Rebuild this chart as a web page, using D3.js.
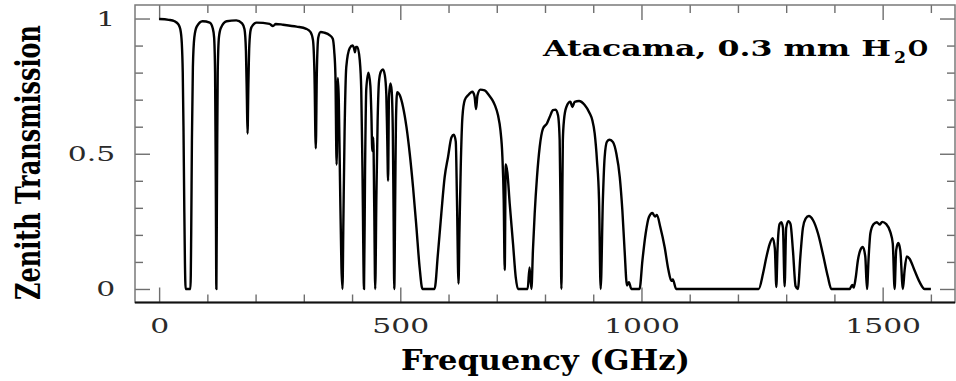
<!DOCTYPE html>
<html>
<head>
<meta charset="utf-8">
<script src="https://cdn.jsdelivr.net/npm/d3@7"></script>
<style>
  html, body { margin: 0; padding: 0; background: #fff; }
  svg { display: block; }
</style>
</head>
<body>
<script>
// ---------------- data ----------------
const freqGHz = [
  0, 20, 32, 40, 44, 47, 49, 50.5, 52, 53.5, 55, 65, 66.5, 68, 70, 73, 78, 90, 105, 111,
  114, 116, 117.5, 118.7, 120, 121.5, 124, 128, 140, 160, 172, 177, 180, 182, 183.3, 185, 187, 190, 195, 202,
  229, 236, 242, 257, 285, 305, 314, 319, 322, 324.8, 327, 330, 335, 342, 354, 360, 363, 365.5, 368, 370.5,
  372.5, 375, 378, 380.2, 382, 384.5, 388, 395, 401, 404, 406, 408, 411, 416, 419, 421.5, 424.8, 427, 429.5, 434,
  438, 440, 442, 444, 446, 448, 450.5, 453, 456, 460, 464, 468, 471, 473, 474.7, 476.5, 479.5, 482, 484.5, 486,
  487.5, 489.5, 491, 493.5, 499, 505.7, 512.7, 519.6, 526.4, 533.4, 540, 546, 571, 578, 585, 592, 599, 606, 611, 615,
  617.5, 620.7, 622.5, 625.3, 628.8, 633.6, 640.4, 649.5, 654, 657, 660, 666, 675, 684, 691, 696, 702.6, 707.6, 711.7, 714.4,
  716.5, 718.6, 722, 726.8, 733.7, 739.3, 744, 764, 768, 771.8, 775, 778.6, 783.4, 789, 795.8, 804, 809.7, 816.6, 822, 827,
  830.4, 832.5, 834, 835.5, 837, 839.4, 844.3, 852.6, 856.8, 861.5, 870.5, 882.3, 892.6, 898, 903, 907.7, 912, 915.4, 920, 923.7,
  928.5, 934, 941, 948, 955, 960.4, 965, 970, 974, 979, 996, 1002, 1008.7, 1015.5, 1022.6, 1028, 1032, 1039, 1048, 1056,
  1062, 1065, 1072, 1243, 1252, 1259, 1265.6, 1272, 1276.5, 1279.6, 1282, 1286.4, 1290, 1293.3, 1296.8, 1300, 1304.5, 1309, 1314, 1319.6,
  1324.3, 1329.3, 1334.7, 1340.3, 1347, 1355.5, 1366, 1376, 1386.6, 1393.6, 1431.5, 1437, 1440, 1444, 1448.7, 1453.6, 1459, 1464, 1467.5, 1471,
  1474.5, 1481, 1488, 1493.6, 1499, 1507.5, 1516, 1521, 1524.8, 1528, 1532.4, 1536.6, 1542, 1545.5, 1550, 1555.8, 1566, 1576.5, 1587, 1600
];
const transmission = [
  0.998, 0.995, 0.99, 0.978, 0.96, 0.91, 0.80, 0.60, 0.33, 0.10, 0.0, 0.0, 0.20, 0.55, 0.82, 0.93, 0.97, 0.99, 0.985, 0.965,
  0.93, 0.80, 0.40, 0.0, 0.40, 0.80, 0.93, 0.965, 0.99, 0.993, 0.982, 0.96, 0.88, 0.70, 0.575, 0.75, 0.90, 0.96, 0.977, 0.985,
  0.98, 0.972, 0.98, 0.977, 0.97, 0.962, 0.95, 0.92, 0.80, 0.52, 0.80, 0.93, 0.95, 0.948, 0.938, 0.925, 0.88, 0.79, 0.46, 0.78,
  0.70, 0.40, 0.08, 0.0, 0.25, 0.58, 0.82, 0.89, 0.90, 0.89, 0.875, 0.895, 0.895, 0.845, 0.74, 0.45, 0.0, 0.45, 0.74, 0.80,
  0.75, 0.65, 0.51, 0.56, 0.30, 0.0, 0.35, 0.62, 0.77, 0.805, 0.812, 0.79, 0.72, 0.55, 0.40, 0.71, 0.76, 0.735, 0.58, 0.30,
  0.0, 0.35, 0.62, 0.728, 0.716, 0.673, 0.60, 0.50, 0.377, 0.229, 0.081, 0.0, 0.0, 0.13, 0.278, 0.414, 0.488, 0.56, 0.57, 0.545,
  0.33, 0.02, 0.2, 0.45, 0.636, 0.698, 0.716, 0.729, 0.712, 0.665, 0.716, 0.737, 0.734, 0.716, 0.698, 0.68, 0.642, 0.587, 0.488, 0.33,
  0.07, 0.46, 0.43, 0.316, 0.168, 0.044, 0.0, 0.0, 0.08, 0.0, 0.143, 0.278, 0.414, 0.525, 0.593, 0.612, 0.636, 0.661, 0.663, 0.642,
  0.55, 0.25, 0.0, 0.25, 0.55, 0.625, 0.673, 0.692, 0.673, 0.692, 0.695, 0.68, 0.65, 0.625, 0.575, 0.476, 0.33, 0.0, 0.33, 0.488,
  0.545, 0.552, 0.543, 0.50, 0.414, 0.29, 0.143, 0.013, 0.025, 0.0, 0.0, 0.106, 0.205, 0.266, 0.281, 0.268, 0.274, 0.229, 0.155, 0.069,
  0.03, 0.035, 0.0, 0.0, 0.057, 0.118, 0.165, 0.188, 0.15, 0.007, 0.143, 0.24, 0.247, 0.226, 0.01, 0.226, 0.251, 0.24, 0.143, 0.01,
  0.0, 0.118, 0.226, 0.26, 0.27, 0.255, 0.205, 0.13, 0.044, 0.0, 0.0, 0.015, 0.005, 0.04, 0.106, 0.143, 0.155, 0.12, 0.0, 0.118,
  0.205, 0.239, 0.247, 0.238, 0.248, 0.24, 0.21, 0.168, 0.0, 0.143, 0.17, 0.143, 0.0, 0.069, 0.12, 0.112, 0.069, 0.026, 0.0, 0.0
];
const xTickValues = [0, 500, 1000, 1500];
const xTickLabels = ["0", "500", "1000", "1500"];
const xMinorTicks = [100, 200, 300, 400, 600, 700, 800, 900, 1100, 1200, 1300, 1400, 1600];
const yTickValues = [0, 0.5, 1];
const yTickLabels = ["0", "0.5", "1"];
const yMinorTicks = [0.1, 0.2, 0.3, 0.4, 0.6, 0.7, 0.8, 0.9];
const titleMain = "Atacama, 0.3 mm H";
const titleSub = "2";
const titleEnd = "O";
const xLabel = "Frequency (GHz)";
const yLabel = "Zenith Transmission";

// ---------------- chart ----------------
const W = 956, H = 381;
const L = 135, R = 955, T = 5, B = 302.5;

const svg = d3.select("body").append("svg").attr("width", W).attr("height", H);

const x = d3.scaleLinear().domain([-50, 1650]).range([L, R]);
const y = d3.scaleLinear().domain([-0.05, 1.05]).range([B, T]);

const tickColor = "#6e6e6e";
const MAJ = 15, MIN = 8;

function styleAxis(g) {
  g.select(".domain").remove();
  g.selectAll(".tick line").attr("stroke", tickColor).attr("stroke-width", 1.4);
}

// bottom
svg.append("g").attr("transform", `translate(0,${B})`)
  .call(d3.axisBottom(x).tickValues(xMinorTicks).tickSizeInner(-MIN).tickSizeOuter(0).tickFormat(""))
  .call(styleAxis);
const xb = svg.append("g").attr("transform", `translate(0,${B})`)
  .call(d3.axisBottom(x).tickValues(xTickValues).tickSizeInner(-MAJ).tickSizeOuter(0).tickPadding(16)
        .tickFormat((d, i) => xTickLabels[i]))
  .call(styleAxis);
// top
svg.append("g").attr("transform", `translate(0,${T})`)
  .call(d3.axisTop(x).tickValues(xMinorTicks).tickSizeInner(-MIN).tickSizeOuter(0).tickFormat(""))
  .call(styleAxis);
svg.append("g").attr("transform", `translate(0,${T})`)
  .call(d3.axisTop(x).tickValues(xTickValues).tickSizeInner(-MAJ).tickSizeOuter(0).tickFormat(""))
  .call(styleAxis);
// left
svg.append("g").attr("transform", `translate(${L},0)`)
  .call(d3.axisLeft(y).tickValues(yMinorTicks).tickSizeInner(-MIN).tickSizeOuter(0).tickFormat(""))
  .call(styleAxis);
const yl = svg.append("g").attr("transform", `translate(${L},0)`)
  .call(d3.axisLeft(y).tickValues(yTickValues).tickSizeInner(-MAJ).tickSizeOuter(0).tickPadding(14)
        .tickFormat((d, i) => yTickLabels[i]))
  .call(styleAxis);
// right
svg.append("g").attr("transform", `translate(${R},0)`)
  .call(d3.axisRight(y).tickValues(yMinorTicks).tickSizeInner(-MIN).tickSizeOuter(0).tickFormat(""))
  .call(styleAxis);
svg.append("g").attr("transform", `translate(${R},0)`)
  .call(d3.axisRight(y).tickValues(yTickValues).tickSizeInner(-MAJ).tickSizeOuter(0).tickFormat(""))
  .call(styleAxis);

// tick label styling (wide thin serif)
[xb, yl].forEach(g => g.selectAll(".tick text")
  .attr("font-family", "DejaVu Serif")
  .attr("font-size", 21)
  .attr("fill", "#2a2a2a")
  .attr("transform", "scale(1.42,1)"));

// frame
svg.append("rect").attr("x", L).attr("y", T).attr("width", R - L).attr("height", B - T)
  .attr("fill", "none").attr("stroke", "#7a7a7a").attr("stroke-width", 1.5);
svg.append("line").attr("x1", L).attr("x2", R).attr("y1", B).attr("y2", B)
  .attr("stroke", "#111").attr("stroke-width", 2);

// curve
const pts = freqGHz.map((f, i) => [f, transmission[i]]);
const line = d3.line().x(d => x(d[0])).y(d => y(d[1])).curve(d3.curveMonotoneX);
svg.append("path").datum(pts).attr("d", line)
  .attr("fill", "none").attr("stroke", "#000").attr("stroke-width", 2.4)
  .attr("stroke-linejoin", "round");

// labels
const labelFont = "DejaVu Serif";
svg.append("text").attr("x", 545.5).attr("y", 370).attr("text-anchor", "middle")
  .attr("font-family", labelFont).attr("font-weight", "bold").attr("font-size", 28)
  .attr("textLength", 289).attr("lengthAdjust", "spacingAndGlyphs").attr("fill", "#000")
  .text(xLabel);

svg.append("text").attr("transform", "translate(40,162.5) scale(1.45,1) rotate(-90)")
  .attr("text-anchor", "middle")
  .attr("font-family", labelFont).attr("font-weight", "bold").attr("font-size", 22.5)
  .attr("textLength", 275).attr("lengthAdjust", "spacingAndGlyphs").attr("fill", "#000")
  .text(yLabel);

// title
svg.append("text").attr("x", 543).attr("y", 56)
  .attr("font-family", labelFont).attr("font-weight", "bold").attr("font-size", 22)
  .attr("textLength", 348).attr("lengthAdjust", "spacingAndGlyphs").attr("fill", "#000")
  .text(titleMain);
svg.append("text").attr("x", 894).attr("y", 63)
  .attr("font-family", labelFont).attr("font-weight", "bold").attr("font-size", 16)
  .attr("textLength", 12).attr("lengthAdjust", "spacingAndGlyphs").attr("fill", "#000")
  .text(titleSub);
svg.append("text").attr("x", 908).attr("y", 56)
  .attr("font-family", labelFont).attr("font-weight", "bold").attr("font-size", 22)
  .attr("textLength", 20).attr("lengthAdjust", "spacingAndGlyphs").attr("fill", "#000")
  .text(titleEnd);
</script>
</body>
</html>
